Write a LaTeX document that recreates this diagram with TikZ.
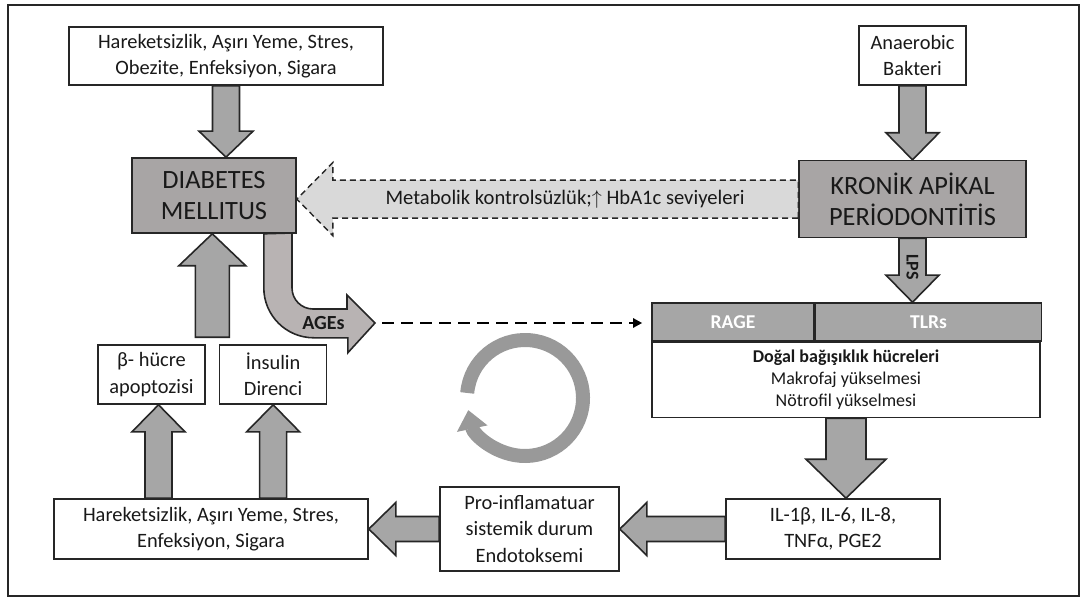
\documentclass[tikz,border=0pt]{standalone}
\usepackage{fontspec}
\setmainfont{Carlito}
\usepackage{tikz}
\usetikzlibrary{arrows.meta,positioning,calc}

\definecolor{edge}{RGB}{38,38,38}
\definecolor{boxgray}{RGB}{168,165,165}
\definecolor{arrowgray}{RGB}{166,166,166}
\definecolor{headgray}{RGB}{166,166,166}
\definecolor{agesgray}{RGB}{184,179,179}
\definecolor{lightfill}{RGB}{217,217,217}
\definecolor{ringgray}{RGB}{153,153,153}

\tikzset{
  fat/.style args={#1/#2/#3}{draw=edge, line width=0.8pt, fill=arrowgray,
    to path={($(\tikztostart)!#1!90:(\tikztotarget)$)
      -- ($($(\tikztotarget)!#3!(\tikztostart)$)!#1!90:(\tikztotarget)$)
      -- ($($(\tikztotarget)!#3!(\tikztostart)$)!#2!90:(\tikztotarget)$)
      -- (\tikztotarget)
      -- ($($(\tikztotarget)!#3!(\tikztostart)$)!#2!-90:(\tikztotarget)$)
      -- ($($(\tikztotarget)!#3!(\tikztostart)$)!#1!-90:(\tikztotarget)$)
      -- ($(\tikztostart)!#1!-90:(\tikztotarget)$) -- cycle}}
}

\begin{document}
\begin{tikzpicture}[
    x=0.5pt, y=-0.5pt,
    every node/.style={text=black!90},
    wbox/.style={draw=edge, line width=0.8pt, fill=white, align=center, inner sep=0pt, font=\fontsize{10.2}{13.2}\selectfont},
    gbox/.style={draw=edge, line width=0.8pt, fill=boxgray, align=center, inner sep=0pt, font=\fontsize{13.2}{15.5}\selectfont},
    hcell/.style={draw=edge, line width=0.8pt, fill=headgray, inner sep=0pt, minimum height=19pt, text=white, font=\bfseries\fontsize{9.8}{11}\selectfont},
    bent/.style={draw=edge, line width=0.8pt, fill=agesgray},
    link/.style={draw=black, line width=1.3pt, dash pattern=on 5.8pt off 3.7pt, -{Triangle[length=4.5pt, width=4.5pt]}},
    ring/.style={draw=ringgray, line width=7pt, -{Triangle[width=15pt, length=9.5pt]}},
    frame/.style={draw=black!85, line width=1pt}
]
    \useasboundingbox (0,0) rectangle (1085,598);
    \draw[frame] (8,5) rectangle (1079,596);

    % Top row
    \node[wbox, minimum width=157pt, minimum height=29pt] (topcause) at (226,56) {Hareketsizlik, Aşırı Yeme, Stres,\\Obezite, Enfeksiyon, Sigara};
    \node[gbox, minimum width=82pt, minimum height=37.5pt] (dm) at (214,195.5) {DIABETES\\MELLITUS};
    \node[wbox, minimum width=53.5pt, minimum height=29.5pt] (anaerobic) at (912.5,55.5) {Anaerobic\\Bakteri};
    \node[gbox, minimum width=113.5pt, minimum height=38.5pt, below=37pt of anaerobic] (kronik) {KRONİK APİKAL\\PERİODONTİTİS};

    % Receptor table
    \node[hcell, minimum width=81pt] (rage) at (733,322) {RAGE};
    \node[hcell, minimum width=113pt, right=0pt of rage] (tlrs) {TLRs};
    \node[wbox, font=\fontsize{9}{11}\selectfont, minimum width=194pt, minimum height=37.5pt, anchor=north west] (body) at (rage.south west) {\textbf{Doğal bağışıklık hücreleri}\\Makrofaj yükselmesi\\Nötrofil yükselmesi};

    % Lower boxes
    \node[wbox, minimum width=53.5pt, minimum height=29.5pt] (beta) at (151.5,374.5) {β- hücre\\apoptozisi};
    \node[wbox, minimum width=53.5pt, minimum height=29.5pt, right=6.5pt of beta] (insulin) {İnsulin\\Direnci};
    \node[wbox, minimum width=157pt, minimum height=30pt] (botcause) at (211,529) {Hareketsizlik, Aşırı Yeme, Stres,\\Enfeksiyon, Sigara};
    \node[wbox, minimum width=89.5pt, minimum height=42pt] (pro) at (529.5,529) {Pro-inflamatuar\\sistemik durum\\Endotoksemi};
    \node[wbox, minimum width=107pt, minimum height=30pt] (il) at (833,529) {IL-1β, IL-6, IL-8,\\TNFα, PGE2};

    \coordinate (t1) at (topcause.south |- dm.north);
    \coordinate (t3) at (kronik.south |- rage.north);
    \coordinate (t4) at (body.south |- il.north);
    \coordinate (gap) at ($(beta.north east)!0.5!(insulin.north west)+(0,-7)$);
    \coordinate (t9) at (gap |- dm.south);
    \coordinate (bt) at ($(beta.south)+(7,0)$);
    \coordinate (bs) at (bt |- botcause.north);
    \coordinate (is) at (insulin.south |- botcause.north);
    \coordinate (t10) at (kronik.west -| dm.east);

    % Block arrows
    \draw[fat=6.75pt/13.5pt/13pt] (topcause.south) to (t1);
    \draw[fat=6.75pt/13.25pt/13.5pt] (anaerobic.south) to (kronik.north);
    \draw[fat=6.75pt/13.25pt/13.5pt] (kronik.south) to (t3);
    \draw[fat=10pt/20pt/19.5pt] (body.south) to (t4);
    \draw[fat=6.25pt/13.25pt/13.5pt] (il.west) to (pro.east);
    \draw[fat=6.25pt/13.25pt/13.5pt] (pro.west) to (botcause.east);
    \draw[fat=6.75pt/13.25pt/13.5pt] (bs) to (bt);
    \draw[fat=6.75pt/13.25pt/13.5pt] (is) to (insulin.south);
    \draw[fat=8.5pt/16.75pt/16pt] (gap) to (t9);
    \draw[fat=9.5pt/18.25pt/18pt, fill=lightfill, line width=0.7pt, dash pattern=on 3pt off 2pt] (kronik.west) to (t10);

    \node[font=\bfseries\fontsize{9}{10}\selectfont, rotate=-90] (lps) at ($(kronik.south)!0.45!(t3)$) {LPS};
    \node[font=\fontsize{10.3}{12}\selectfont] (meta) at (565,199) {Metabolik kontrolsüzlük;$\uparrow$ HbA1c seviyeleri};

    % AGEs
    \coordinate (ag) at ($(dm.south east)+(-33,0)$);
    \coordinate (agtip) at (375,323);
    \draw[bent] (ag) -- ++(0,54) arc[start angle=180, end angle=90, radius=50] -- ++(34,0) -- ++(0,15)
        -- (agtip) -- ++(-28,-28) -- ++(0,14) -- ++(-34,0) arc[start angle=90, end angle=180, radius=21] -- ++(0,-55) -- cycle;
    \node[font=\bfseries\fontsize{10}{11}\selectfont] (ages) at (323.5,323) {AGEs};
    \draw[link, shorten <=3.5pt, shorten >=4.5pt] (agtip) -- (agtip -| rage.west);

    % Cycle
    \coordinate (cyc) at (525,398);
    \draw[ring] (cyc) ++(185:58) arc[start angle=185, end angle=528, radius=58];
\end{tikzpicture}
\end{document}
